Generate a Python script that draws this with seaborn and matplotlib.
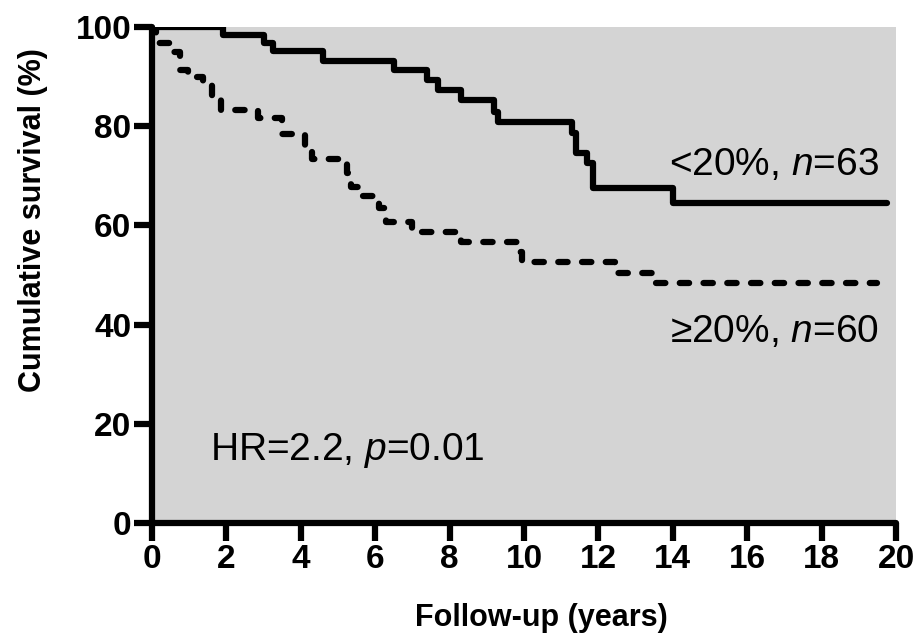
import pandas as pd
import seaborn as sns
import matplotlib.pyplot as plt

# === data ===
low_years = [0, 1.9, 3.0, 3.25, 4.6, 6.5, 7.4, 7.7, 8.3, 9.2, 9.3, 11.3, 11.4, 11.7, 11.85, 14.0, 19.75]
low_surv = [100, 98.4, 96.8, 95.2, 93.1, 91.3, 89.3, 87.3, 85.3, 82.9, 80.8, 78.6, 74.5, 72.5, 67.5, 64.6, 64.6]

high_years = [0, 0.1, 0.5, 0.75, 0.97, 1.37, 1.6, 1.85, 2.85, 3.5, 4.1, 4.3, 5.25, 5.35, 5.65,
              6.1, 6.3, 7.0, 8.3, 9.85, 9.95, 12.45, 13.5, 19.5]
high_surv = [100, 96.7, 95.0, 91.3, 90.0, 88.3, 85.3, 83.2, 81.6, 78.4, 74.7, 73.4, 70.5, 67.7, 66.0,
             63.6, 60.6, 58.6, 56.6, 54.7, 52.7, 50.5, 48.4, 48.4]

group_labels = ["<20%, $n$=63", "\u226520%, $n$=60"]
hr_text = "HR=2.2, $p$=0.01"
x_ticks = list(range(0, 21, 2))
y_ticks = list(range(0, 101, 20))

df_low = pd.DataFrame({"years": low_years, "surv": low_surv})
df_high = pd.DataFrame({"years": high_years, "surv": high_surv})

# === style ===
sns.set_style("ticks")
plt.rcParams["font.family"] = ["Liberation Sans", "DejaVu Sans"]
plt.rcParams["mathtext.fontset"] = "custom"
plt.rcParams["mathtext.rm"] = "Liberation Sans"
plt.rcParams["mathtext.it"] = "Liberation Sans:italic"
plt.rcParams["text.color"] = "black"
plt.rcParams["axes.labelcolor"] = "black"
plt.rcParams["xtick.color"] = "black"
plt.rcParams["ytick.color"] = "black"

fig = plt.figure(figsize=(9.19, 6.43), dpi=100)
ax = fig.add_axes([0.1654, 0.1866, 0.8096, 0.7714])
ax.set_facecolor("#d4d4d4")

# === curves ===
sns.lineplot(data=df_low, x="years", y="surv", ax=ax, estimator=None, sort=False,
             drawstyle="steps-post", color="black", linewidth=4.5,
             solid_capstyle="round", solid_joinstyle="round")
sns.lineplot(data=df_high, x="years", y="surv", ax=ax, estimator=None, sort=False,
             drawstyle="steps-post", color="black", linewidth=4.5,
             dashes=(1.5, 2.3), dash_capstyle="round", dash_joinstyle="round")

# === annotations ===
ax.text(19.55, 70.2, group_labels[0], ha="right", va="baseline", fontsize=28)
ax.text(19.55, 36.5, group_labels[1], ha="right", va="baseline", fontsize=28)
ax.text(1.56, 12.7, hr_text, ha="left", va="baseline", fontsize=28)

# === axes ===
ax.set_xlim(0, 20)
ax.set_ylim(0, 100)
ax.set_xticks(x_ticks)
ax.set_yticks(y_ticks)
ax.set_xticklabels([str(v) for v in x_ticks], fontsize=24, fontweight="bold")
ax.set_yticklabels([str(v) for v in y_ticks], fontsize=24, fontweight="bold")
ax.tick_params(axis="both", length=13, width=4.5, pad=2, color="black")
ax.set_xlabel("Follow-up (years)", fontsize=22, fontweight="bold")
ax.set_ylabel("Cumulative survival (%)", fontsize=22, fontweight="bold")
ax.xaxis.set_label_coords(0.523, -0.162)
ax.yaxis.set_label_coords(-0.14, 0.61)

sns.despine(ax=ax)
for side in ["left", "bottom"]:
    ax.spines[side].set_linewidth(4.5)
    ax.spines[side].set_color("black")
    ax.spines[side].set_capstyle("round")

fig.savefig("out.png", dpi=100)
